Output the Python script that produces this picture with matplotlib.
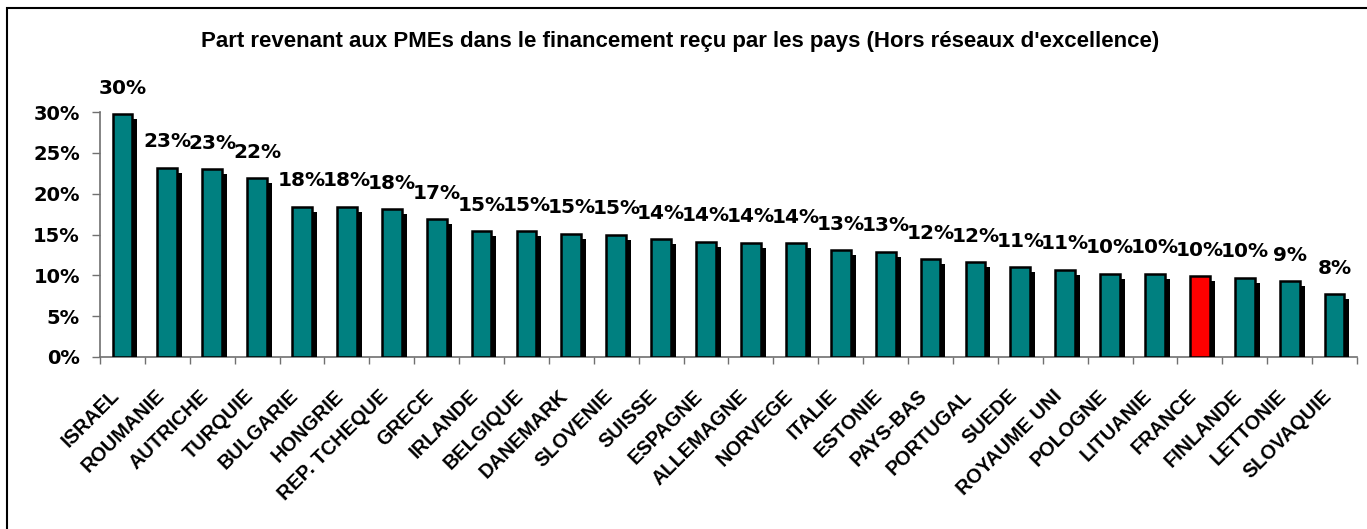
import matplotlib
matplotlib.use("Agg")
import matplotlib.pyplot as plt
import matplotlib.patheffects as pe
import matplotlib.patches as mpatches
from matplotlib.transforms import ScaledTranslation
from matplotlib.ticker import FuncFormatter, FixedLocator

plt.rcParams['font.family'] = ['Liberation Sans', 'DejaVu Sans']
plt.rcParams['font.weight'] = 'bold'
NUM_FONT = ['DejaVu Sans']

countries = ["ISRAEL", "ROUMANIE", "AUTRICHE", "TURQUIE", "BULGARIE", "HONGRIE",
             "REP. TCHEQUE", "GRECE", "IRLANDE", "BELGIQUE", "DANEMARK", "SLOVENIE",
             "SUISSE", "ESPAGNE", "ALLEMAGNE", "NORVEGE", "ITALIE", "ESTONIE",
             "PAYS-BAS", "PORTUGAL", "SUEDE", "ROYAUME UNI", "POLOGNE", "LITUANIE",
             "FRANCE", "FINLANDE", "LETTONIE", "SLOVAQUIE"]
shares = [29.7, 23.2, 23.0, 21.9, 18.4, 18.4, 18.1, 16.9, 15.4, 15.4, 15.1, 15.0,
          14.4, 14.1, 14.0, 13.9, 13.1, 12.9, 12.0, 11.6, 11.0, 10.7, 10.2, 10.2,
          9.9, 9.7, 9.3, 7.7]
highlight = "FRANCE"
title = "Part revenant aux PMEs dans le financement reçu par les pays (Hors réseaux d'excellence)"

W, H = 1367, 529
fig = plt.figure(figsize=(W / 100, H / 100), dpi=100)
fig.patch.set_facecolor("white")

# outer frame
frame = mpatches.Rectangle((7 / W, -0.2), 1.3, 0.2 + 1 - 8 / H, transform=fig.transFigure,
                           fill=False, edgecolor="black", linewidth=1.5)
fig.patches.append(frame)

ax = fig.add_axes([100 / W, 1 - 357 / H, 1257 / W, (357 - 112) / H])

x = list(range(len(countries)))
colors = ["#FF0000" if c == highlight else "#008080" for c in countries]
bars = ax.bar(x, shares, width=0.44, color=colors, edgecolor="black", linewidth=1.8,
              zorder=3)
for b in bars:
    b.set_path_effects([pe.SimplePatchShadow(offset=(3.6, -3.6), shadow_rgbFace="black",
                                             alpha=1.0), pe.Normal()])

for xi, v in zip(x, shares):
    ax.annotate(f"{round(v):d}%", xy=(xi, v), xytext=(0, 18.7), textcoords="offset points",
                ha="center", va="center", fontsize=14.5, fontweight="bold",
                family=NUM_FONT, annotation_clip=False, zorder=5)

ax.set_xlim(-0.5, len(countries) - 0.5)
ax.set_ylim(0, 30)
ax.set_yticks([0, 5, 10, 15, 20, 25, 30])
ax.yaxis.set_major_formatter(FuncFormatter(lambda v, p: f"{int(v)}%"))

ax.xaxis.set_major_locator(FixedLocator([i - 0.5 for i in range(len(countries) + 1)]))
ax.xaxis.set_major_formatter(FuncFormatter(lambda v, p: ""))
ax.set_xticks(x, minor=True)
ax.set_xticklabels(countries, minor=True, rotation=45, ha="right", va="top",
                   rotation_mode="anchor", fontsize=14.3, fontweight="bold")
ax.tick_params(axis="x", which="minor", length=0, pad=0)
ax.tick_params(axis="x", which="major", length=5, width=1, color="#707070", direction="out")
ax.tick_params(axis="y", which="major", length=5.8, width=1, color="#707070",
               direction="out", pad=8.6, labelsize=14)
for lab in ax.get_yticklabels():
    lab.set_fontweight("bold")
    lab.set_family(NUM_FONT)
off = ScaledTranslation(-9.4 / 72, -21 / 72, fig.dpi_scale_trans)
for lab in ax.xaxis.get_minorticklabels():
    lab.set_transform(lab.get_transform() + off)

for s in ["top", "right"]:
    ax.spines[s].set_visible(False)
for s in ["left", "bottom"]:
    ax.spines[s].set_color("#707070")
    ax.spines[s].set_linewidth(1.2)

fig.text(680 / W, 1 - 42 / H, title, ha="center", va="center", fontsize=16,
         fontweight="bold")

fig.savefig("out.png", dpi=100)
